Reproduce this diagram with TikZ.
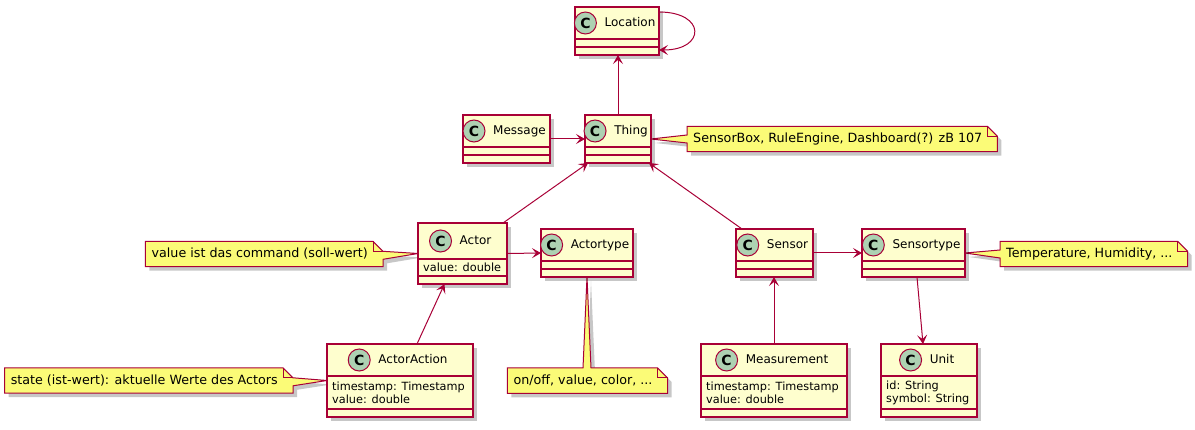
\documentclass[tikz,border=0pt]{standalone}
\usepackage{fontspec}
\setmainfont{DejaVu Sans}
\usetikzlibrary{arrows.meta,shadows,backgrounds}
\definecolor{umlred}{HTML}{A80036}
\definecolor{umlfill}{HTML}{FEFECE}
\definecolor{umlspot}{HTML}{ADD1B2}
\definecolor{umlnote}{HTML}{FBFB77}
\begin{document}
\begin{tikzpicture}[x=1pt,y=-1pt,
  cls/.style={draw=umlred,fill=umlfill,line width=1.3pt,outer sep=0pt,inner sep=0pt,
    drop shadow={shadow xshift=4pt,shadow yshift=-4pt,opacity=.22,fill=black}},
  sep/.style={draw=umlred,line width=1.3pt},
  spot/.style={circle,draw=umlred,fill=umlspot,line width=1pt,minimum size=22pt,inner sep=0pt,
    font=\fontsize{14}{14}\selectfont\bfseries},
  cname/.style={inner sep=0pt,text height=9pt,text depth=2.5pt,font=\fontsize{12}{14}\selectfont},
  attr/.style={inner sep=0pt,align=left,font=\fontsize{11.3}{13}\selectfont},
  assoc/.style={draw=umlred,line width=1pt,-{Stealth[length=9pt,width=10pt,inset=4pt]}},
  note/.style={inner xsep=6pt,inner ysep=0pt,minimum height=25pt,font=\fontsize{12.7}{15}\selectfont},
  notebody/.style={draw=umlred,fill=umlnote,line width=1pt,
    drop shadow={shadow xshift=4pt,shadow yshift=-4pt,opacity=.22,fill=black}},
  fold/.style={draw=umlred,line width=1pt}]
\useasboundingbox (0,0) rectangle (1195,430);

% class boxes
\node[cls,minimum width=84pt,minimum height=48pt] (location) at (617,31) {};
\node[cls,minimum width=66pt,minimum height=48pt] (thing) at (618,139) {};
\node[cls,minimum width=87pt,minimum height=48pt] (message) at (506.5,139) {};
\node[cls,minimum width=89pt,minimum height=61pt] (actor) at (462.5,253.5) {};
\node[cls,minimum width=92pt,minimum height=48pt] (actortype) at (587,253) {};
\node[cls,minimum width=77pt,minimum height=48pt] (sensor) at (774.5,253) {};
\node[cls,minimum width=103pt,minimum height=48pt] (sensortype) at (913.5,253) {};
\node[cls,minimum width=146pt,minimum height=73pt] (actoraction) at (400,380.5) {};
\node[cls,minimum width=146pt,minimum height=73pt] (measurement) at (774,380.5) {};
\node[cls,minimum width=96pt,minimum height=73pt] (unit) at (929,380.5) {};

% compartments
\foreach \l/\r/\a/\b in {575/659/39/47, 585/651/147/155, 463/550/147/155,
    418/507/259/276, 541/633/261/269, 736/813/261/269, 862/965/261/269,
    327/473/376/409, 701/847/376/409, 881/977/376/409}
  \draw[sep] (\l,\a) -- (\r,\a) (\l,\b) -- (\r,\b);

% headers
\node[cname] (location-name) at (630,23) {Location};
\node[spot] (location-spot) at ([xshift=-19pt]location-name.west) {C};
\node[cname] (thing-name) at (631,131) {Thing};
\node[spot] (thing-spot) at ([xshift=-19pt]thing-name.west) {C};
\node[cname] (message-name) at (519.5,131) {Message};
\node[spot] (message-spot) at ([xshift=-19pt]message-name.west) {C};
\node[cname] (actor-name) at (475.5,241) {Actor};
\node[spot] (actor-spot) at ([xshift=-19pt]actor-name.west) {C};
\node[cname] (actortype-name) at (600,245) {Actortype};
\node[spot] (actortype-spot) at ([xshift=-19pt]actortype-name.west) {C};
\node[cname] (sensor-name) at (787.5,245) {Sensor};
\node[spot] (sensor-spot) at ([xshift=-19pt]sensor-name.west) {C};
\node[cname] (sensortype-name) at (926.5,245) {Sensortype};
\node[spot] (sensortype-spot) at ([xshift=-19pt]sensortype-name.west) {C};
\node[cname] (actoraction-name) at (413,360) {ActorAction};
\node[spot] (actoraction-spot) at ([xshift=-19pt]actoraction-name.west) {C};
\node[cname] (measurement-name) at (787,360) {Measurement};
\node[spot] (measurement-spot) at ([xshift=-19pt]measurement-name.west) {C};
\node[cname] (unit-name) at (942,360) {Unit};
\node[spot] (unit-spot) at ([xshift=-19pt]unit-name.west) {C};

% attributes
\node[attr,anchor=west] (actor-attr) at (423,267.5) {value: double};
\node[attr,anchor=west] (actoraction-attr) at (332,392.5) {timestamp: Timestamp\\value: double};
\node[attr,anchor=west] (measurement-attr) at (706,392.5) {timestamp: Timestamp\\value: double};
\node[attr,anchor=west] (unit-attr) at (886,392.5) {id: String\\symbol: String};

% associations
\draw[assoc] (thing.north) -- (thing.north |- location.south);
\draw[assoc] ([yshift=-5pt]location.north east) .. controls +(47,0) and +(47,0) .. ([yshift=5pt]location.south east);
\draw[assoc] (message.east) -- (thing.west);
\draw[assoc] ([xshift=-4pt]actor.north east) -- ([xshift=3pt]thing.south west);
\draw[assoc] ([xshift=6pt]sensor.north west) -- ([xshift=-2pt]thing.south east);
\draw[assoc] (actor.east) -- (actortype.west);
\draw[assoc] ([xshift=17pt]actoraction.north) -- ([xshift=-18pt]actor.south);
\draw[assoc] (sensor.east) -- (sensortype.west);
\draw[assoc] (measurement.north) -- (measurement.north |- sensor.south);
\draw[assoc] ([xshift=3.5pt]sensortype.south) -- ([xshift=-6pt]unit.north);

% notes
\node[note,anchor=west] (thing-note) at (687,139) {SensorBox, RuleEngine, Dashboard(?) zB 107};
\node[note,anchor=east] (actor-note) at (374,254) {value ist das command (soll-wert)};
\node[note,anchor=east] (actoraction-note) at (284,380.5) {state (ist-wert): aktuelle Werte des Actors};
\node[note,anchor=north] (actortype-note) at (583,368) {on/off, value, color, ...};
\node[note,anchor=west] (sensortype-note) at (1000,254) {Temperature, Humidity, ...};

\begin{scope}[on background layer]
\draw[notebody] (thing-note.north west) -- ([xshift=-1pt]thing-note.north east)
  -- ([xshift=9pt,yshift=-10pt]thing-note.north east) -- ([xshift=9pt]thing-note.south east)
  -- (thing-note.south west) -- ([yshift=-4pt]thing-note.west) -- (thing.east)
  -- ([yshift=4pt]thing-note.west) -- cycle;
\draw[notebody] (sensortype-note.north west) -- ([xshift=-1pt]sensortype-note.north east)
  -- ([xshift=9pt,yshift=-10pt]sensortype-note.north east) -- ([xshift=9pt]sensortype-note.south east)
  -- (sensortype-note.south west) -- ([yshift=-4pt]sensortype-note.west) -- (sensortype.east)
  -- ([yshift=4pt]sensortype-note.west) -- cycle;
\draw[notebody] (actor-note.north west) -- ([xshift=-1pt]actor-note.north east)
  -- ([xshift=9pt,yshift=-10pt]actor-note.north east) -- (actor.west)
  -- ([xshift=9pt,yshift=-18pt]actor-note.north east) -- ([xshift=9pt]actor-note.south east)
  -- (actor-note.south west) -- cycle;
\draw[notebody] (actoraction-note.north west) -- ([xshift=-1pt]actoraction-note.north east)
  -- ([xshift=9pt,yshift=-10pt]actoraction-note.north east) -- (actoraction.west)
  -- ([xshift=9pt,yshift=-18pt]actoraction-note.north east) -- ([xshift=9pt]actoraction-note.south east)
  -- (actoraction-note.south west) -- cycle;
\draw[notebody] (actortype-note.north west) -- ([xshift=-4pt]actortype.south |- actortype-note.north)
  -- (actortype.south) -- ([xshift=4pt]actortype.south |- actortype-note.north)
  -- ([xshift=-1pt]actortype-note.north east) -- ([xshift=9pt,yshift=-10pt]actortype-note.north east)
  -- ([xshift=9pt]actortype-note.south east) -- (actortype-note.south west) -- cycle;
\foreach \n in {thing-note,sensortype-note,actor-note,actoraction-note,actortype-note}
  \draw[fold] ([xshift=-1pt]\n.north east) -- ([xshift=-1pt,yshift=-10pt]\n.north east)
    -- ([xshift=9pt,yshift=-10pt]\n.north east);
\end{scope}
\end{tikzpicture}
\end{document}
